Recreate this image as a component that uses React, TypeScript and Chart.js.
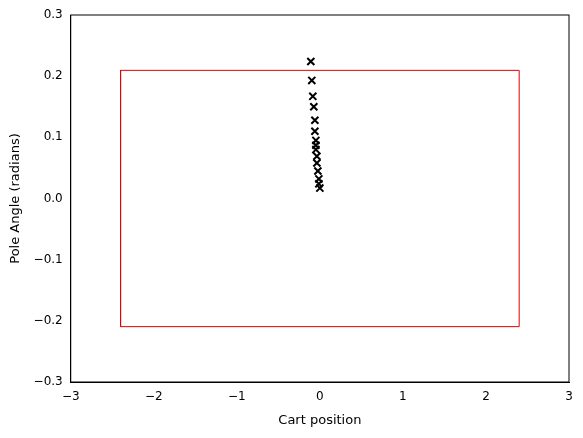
import { useEffect, useRef } from 'react';
import { Chart, registerables } from 'chart.js';
Chart.register(...registerables);

const cartX = [-0.109, -0.097, -0.085, -0.073, -0.06, -0.06, -0.048, -0.048, -0.048, -0.036, -0.036, -0.024, -0.012, -0.012, 0.0];
const poleAngle = [0.224, 0.193, 0.167, 0.150, 0.128, 0.110, 0.095, 0.087, 0.080, 0.069, 0.058, 0.045, 0.032, 0.024, 0.017];
const boxX = [-2.4, 2.4, 2.4, -2.4, -2.4];
const boxY = [-0.2095, -0.2095, 0.2095, 0.2095, -0.2095];

const FONT = 'DejaVu Sans';

export default function App() {
  const canvasRef = useRef<HTMLCanvasElement>(null);

  useEffect(() => {
    if (!canvasRef.current) return;
    const chart = new Chart(canvasRef.current, {
      type: 'scatter',
      data: {
        datasets: [
          {
            data: boxX.map((x, i) => ({ x, y: boxY[i] })),
            showLine: true,
            borderColor: '#e00000',
            borderWidth: 1,
            pointRadius: 0,
            fill: false,
          },
          {
            data: cartX.map((x, i) => ({ x, y: poleAngle[i] })),
            pointStyle: 'crossRot',
            pointRadius: 5,
            borderColor: '#000',
            borderWidth: 2,
            backgroundColor: '#000',
          },
        ],
      },
      options: {
        responsive: false,
        animation: false,
        layout: { padding: { left: 8, right: 14, top: 15, bottom: 10 } },
        plugins: { legend: { display: false }, tooltip: { enabled: false } },
        scales: {
          x: {
            min: -3, max: 3,
            grid: { display: false, drawTicks: true, tickLength: 4, tickColor: '#000' },
            border: { color: '#000' },
            ticks: { stepSize: 1, color: '#000', padding: 4, font: { family: FONT, size: 12 }, callback: (v) => String(v).replace('-', '\u2212') },
            title: { display: true, text: 'Cart position', color: '#000', padding: { top: 4, bottom: 0 }, font: { family: FONT, size: 13 } },
          },
          y: {
            min: -0.3, max: 0.3,
            grid: { display: false, drawTicks: true, tickLength: 4, tickColor: '#000' },
            border: { color: '#000' },
            ticks: { stepSize: 0.1, color: '#000', padding: 4, font: { family: FONT, size: 12 }, callback: (v) => Number(v).toFixed(1).replace('-', '\u2212') },
            title: { display: true, text: 'Pole Angle (radians)', color: '#000', padding: { top: 0, bottom: 6 }, font: { family: FONT, size: 13 } },
          },
        },
      },
      plugins: [{
        id: 'frame',
        afterDraw: (c) => {
          const { ctx, chartArea: a } = c;
          ctx.save();
          ctx.strokeStyle = '#000';
          ctx.lineWidth = 1;
          ctx.strokeRect(a.left, a.top, a.right - a.left, a.bottom - a.top);
          ctx.restore();
        },
      }],
    });
    return () => chart.destroy();
  }, []);

  return (
    <div style={{ margin: -8, background: '#fff' }}>
      <canvas ref={canvasRef} width={583} height={438} style={{ display: 'block' }} />
    </div>
  );
}
